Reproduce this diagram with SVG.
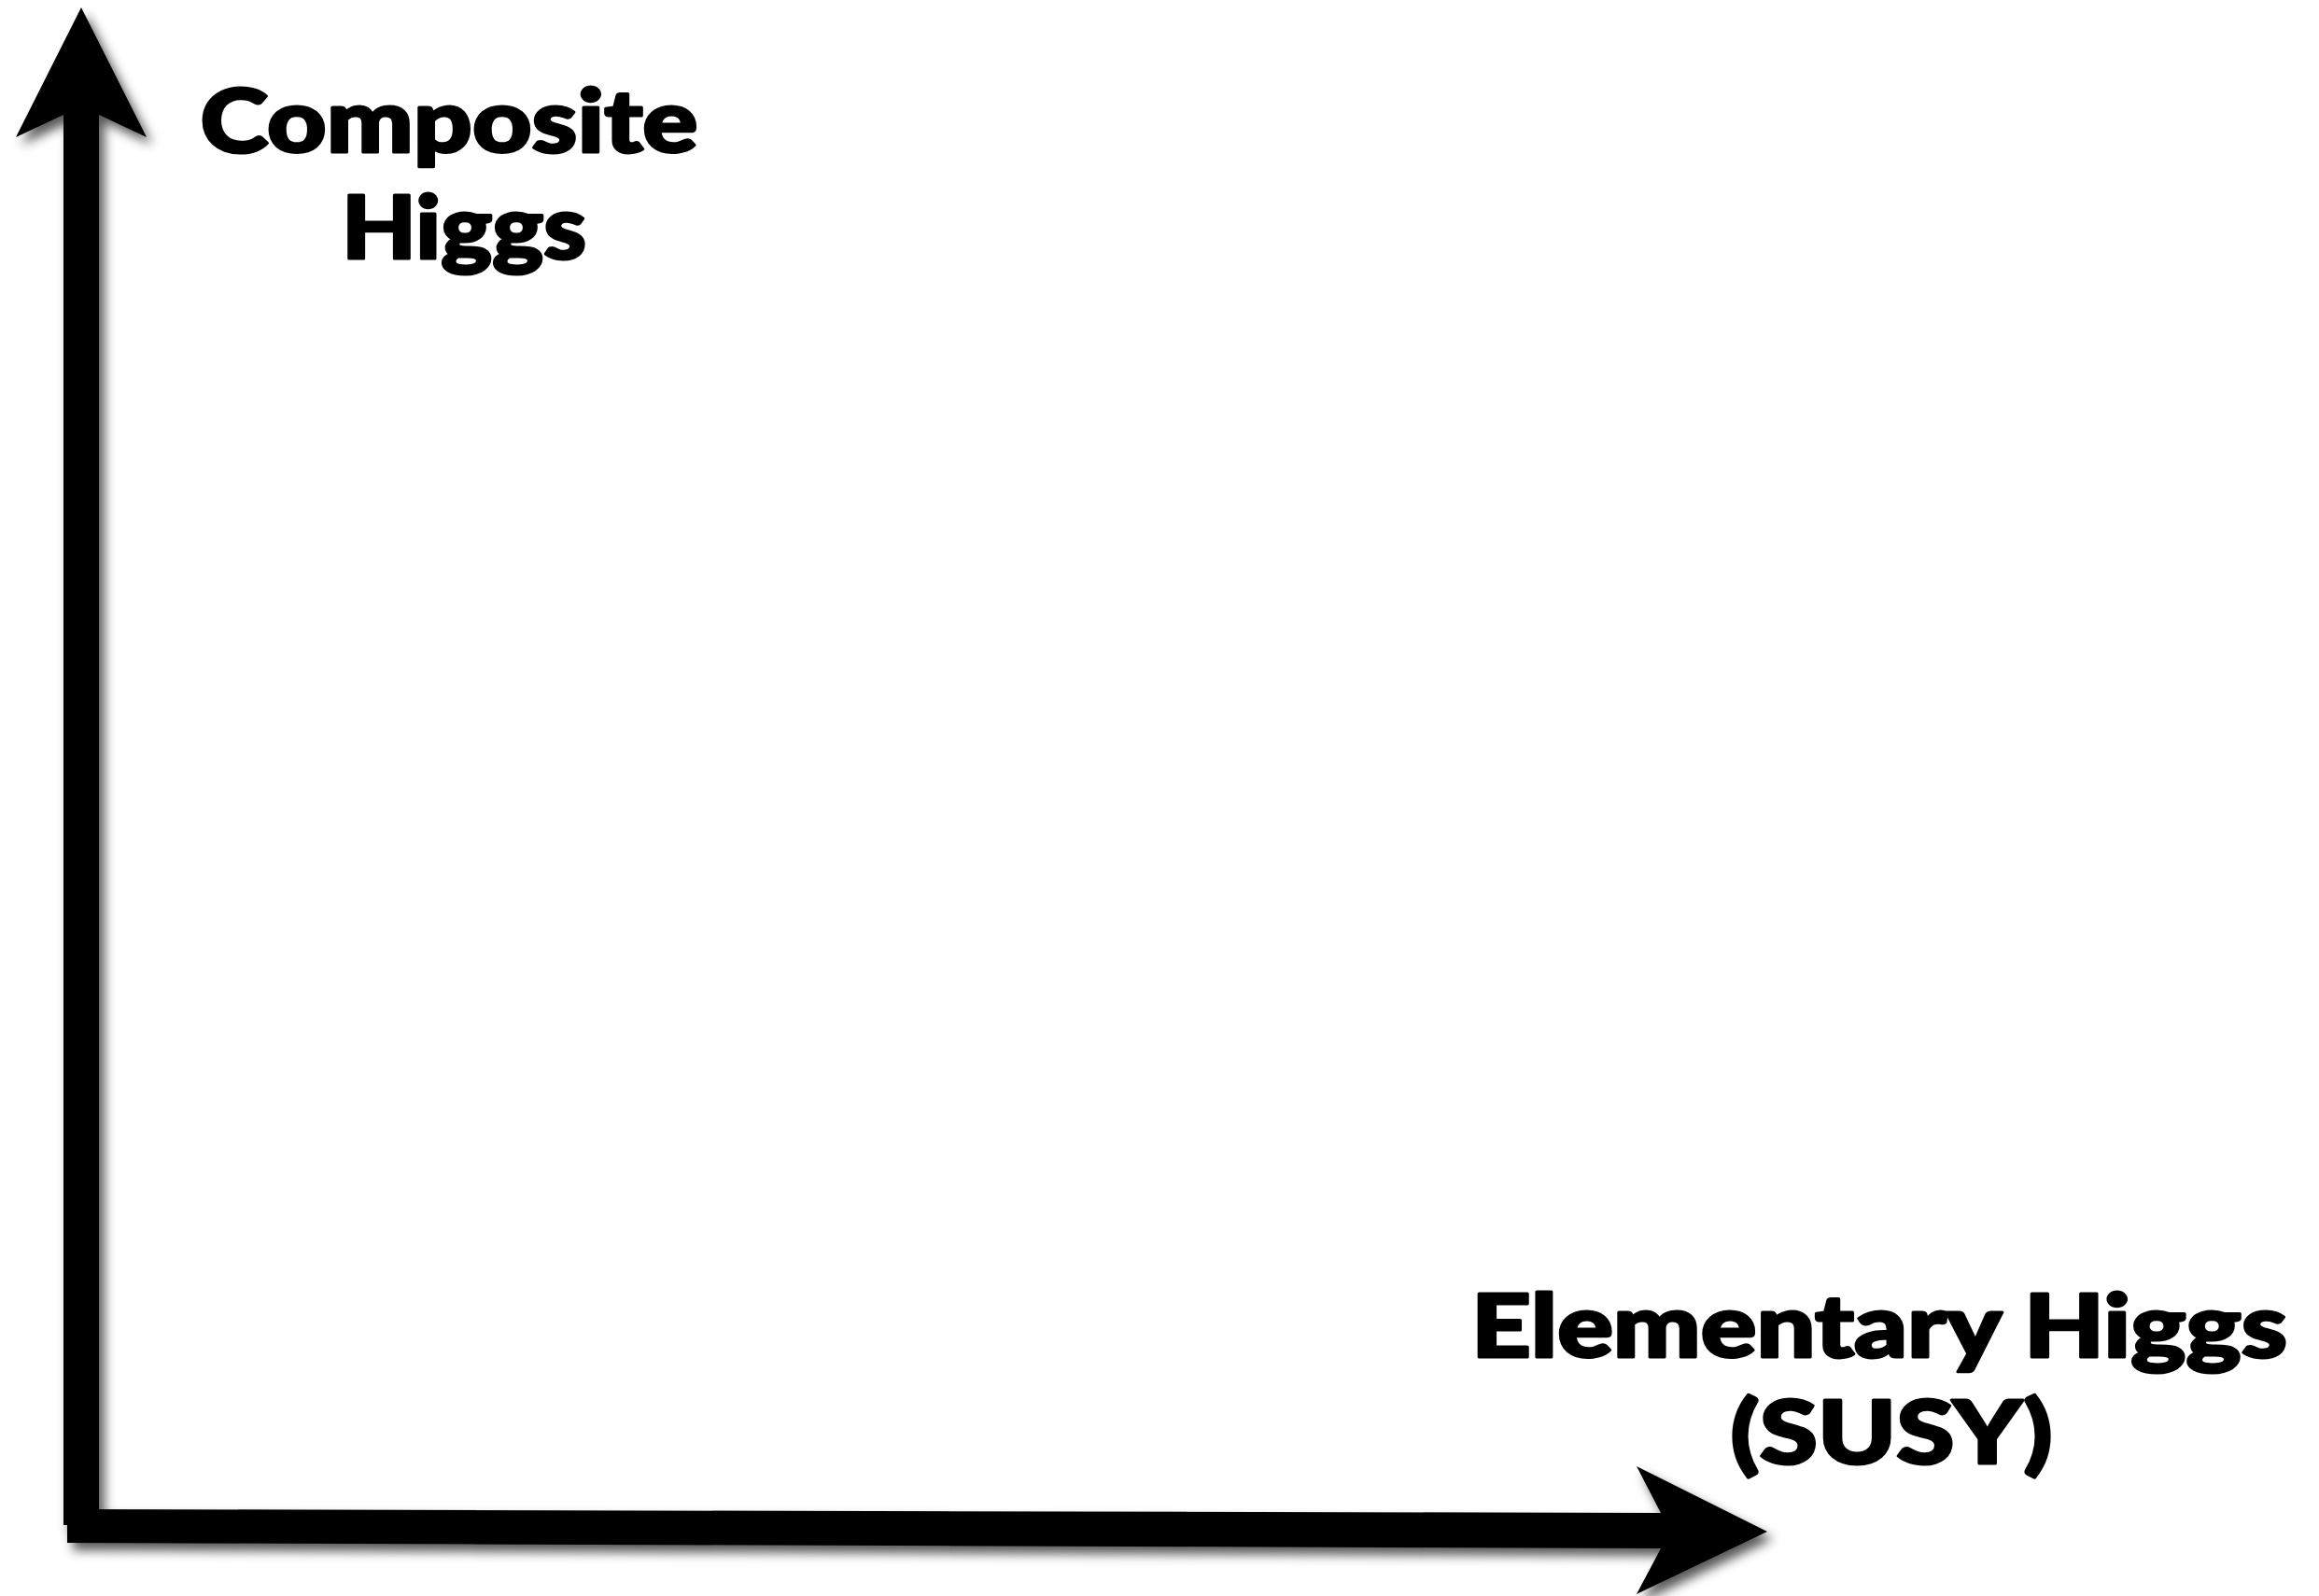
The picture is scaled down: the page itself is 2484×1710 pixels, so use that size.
<svg xmlns="http://www.w3.org/2000/svg" width="2484" height="1710" viewBox="0 0 2484 1710">
  <defs>
    <filter id="shadow" x="-10%" y="-10%" width="130%" height="130%">
      <feDropShadow dx="6" dy="8" stdDeviation="6" flood-color="#000" flood-opacity="0.65"/>
    </filter>
    <style>
      .lbl { font-family: Lato, "Open Sans", "Liberation Sans", sans-serif; font-weight: 900; fill: #000; stroke: #000; stroke-width: 3; stroke-linejoin: round; text-anchor: middle; }
      .axis { fill: #000; }
    </style>
  </defs>
  <rect width="2484" height="1710" fill="#fff"/>
  <g id="connectors" filter="url(#shadow)">
    <polygon id="y-axis" class="axis" points="87,8 157,147 106,123 106,1634 68,1634 68,123 17,147"/>
    <polygon id="x-axis" class="axis" points="72,1617 1779,1621 1753,1571 1893,1641 1753,1708 1779,1659 72,1653"/>
  </g>
  <g id="composite-label">
    <text class="lbl" x="481" y="163" font-size="94" textLength="533" lengthAdjust="spacingAndGlyphs">Composite</text>
    <text class="lbl" x="497" y="277" font-size="94" textLength="262" lengthAdjust="spacingAndGlyphs">Higgs</text>
  </g>
  <g id="elementary-label">
    <text class="lbl" x="2013" y="1454" font-size="93" textLength="874" lengthAdjust="spacingAndGlyphs">Elementary Higgs</text>
    <text class="lbl" x="2026" y="1568" font-size="93" textLength="345" lengthAdjust="spacingAndGlyphs">(SUSY)</text>
  </g>
</svg>
